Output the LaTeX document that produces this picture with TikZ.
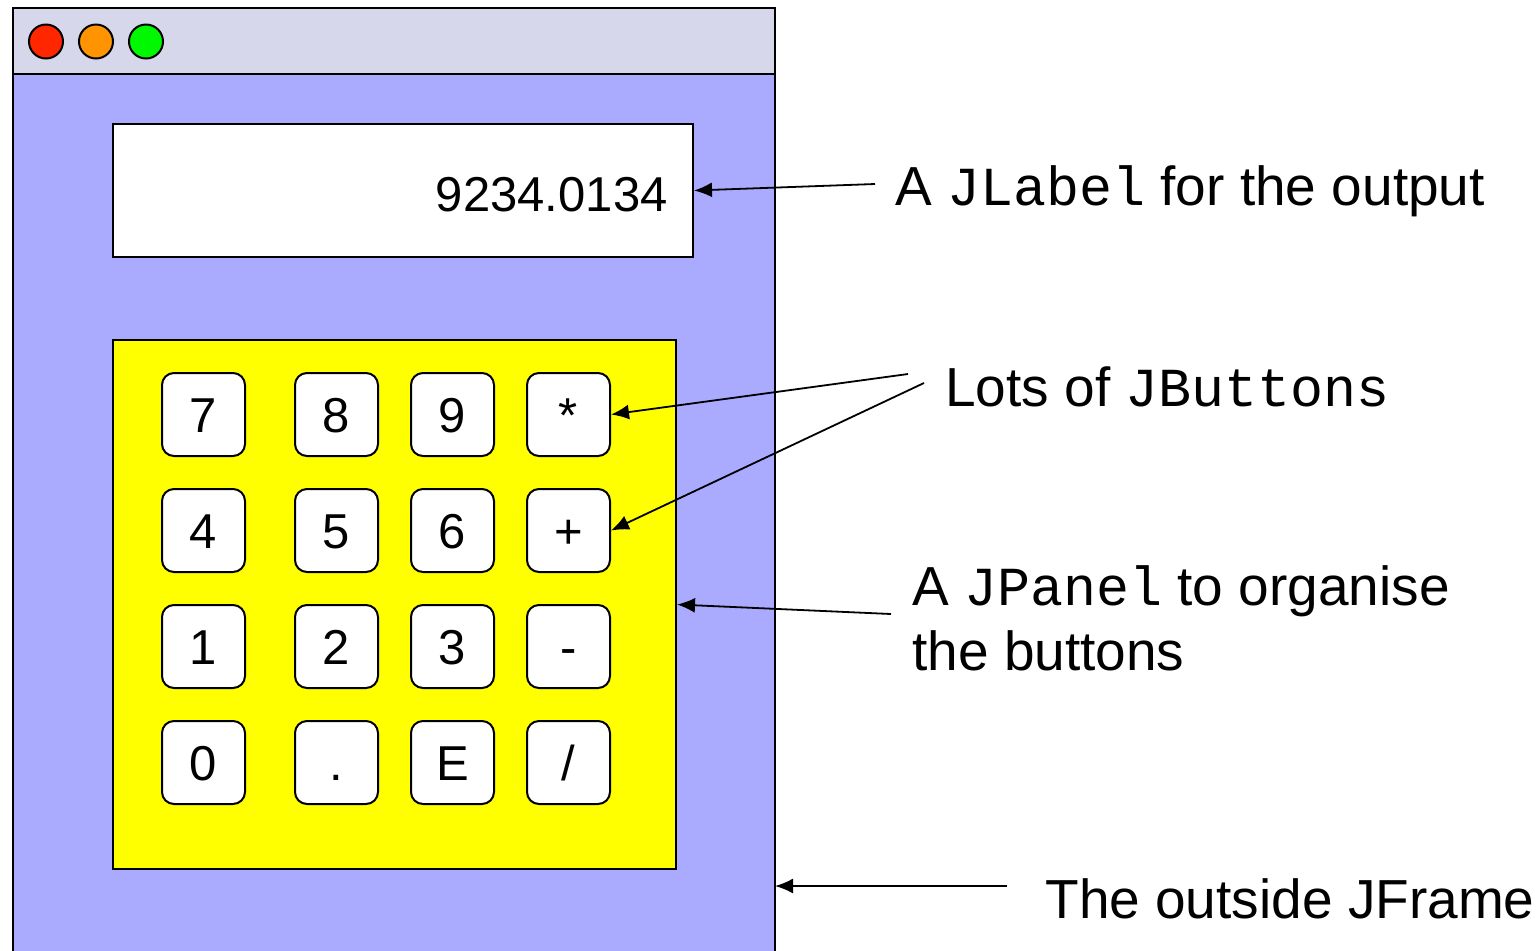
\documentclass[tikz,border=0pt]{standalone}
\usepackage{fontspec}
\setmainfont{Liberation Sans}
\setmonofont{Liberation Mono}
\usetikzlibrary{arrows.meta}
\definecolor{titlebar}{HTML}{D6D7EA}
\definecolor{framebody}{HTML}{AAAAFF}
\definecolor{panelyellow}{HTML}{FFFF00}
\definecolor{btnred}{HTML}{FF2600}
\definecolor{btnorange}{HTML}{FF9300}
\definecolor{btngreen}{HTML}{00F900}
\begin{document}
\begin{tikzpicture}[x=0.5pt,y=-0.5pt,
  btn/.style={draw, line width=1pt, fill=white, rounded corners=6pt,
    minimum width=41.5pt, minimum height=41.5pt, inner sep=0pt,
    font=\fontsize{24.5}{28}\selectfont, text height=17.5pt, text depth=0pt},
  lamp/.style={circle, draw, line width=1pt, minimum size=17pt, inner sep=0pt},
  lbltext/.style={inner sep=0pt, anchor=base west, font=\fontsize{27.5}{32}\selectfont},
  arr/.style={line width=0.9pt, -{Latex[length=9pt,width=7.5pt]}},
  ]
\useasboundingbox (0,0) rectangle (1539,950);
\begin{scope}
  \clip (0,0) rectangle (1539,950);
  \draw[line width=1pt, fill=framebody] (13,74) rectangle (775,990);
  \draw[line width=1pt, fill=titlebar] (13,8) rectangle (775,74);
\end{scope}
\node[lamp, fill=btnred] (close) at (46,41.5) {};
\node[lamp, fill=btnorange] (minimise) at (96,41.5) {};
\node[lamp, fill=btngreen] (maximise) at (146,41.5) {};

\node[draw, line width=1pt, fill=white, minimum width=290pt, minimum height=66.5pt, inner sep=0pt] (lbl) at (403,190.5) {};
\node[anchor=base east, inner sep=0pt, font=\fontsize{24.5}{28}\selectfont] (out) at (668,211) {9234.0134};

\node[draw, line width=1pt, fill=panelyellow, minimum width=281.5pt, minimum height=264.5pt, inner sep=0pt] (panel) at (394.5,604.5) {};

\node[btn] (b7) at (203.5,414.5) {7};
\node[btn] (b8) at (336.5,414.5) {8};
\node[btn] (b9) at (452.5,414.5) {9};
\node[btn] (bstar) at (568.5,414.5) {*};
\node[btn] (b4) at (203.5,530.5) {4};
\node[btn] (b5) at (336.5,530.5) {5};
\node[btn] (b6) at (452.5,530.5) {6};
\node[btn] (bplus) at (568.5,530.5) {+};
\node[btn] (b1) at (203.5,646.5) {1};
\node[btn] (b2) at (336.5,646.5) {2};
\node[btn] (b3) at (452.5,646.5) {3};
\node[btn] (bminus) at (568.5,646.5) {-};
\node[btn] (b0) at (203.5,762.5) {0};
\node[btn] (bdot) at (336.5,762.5) {.};
\node[btn] (bE) at (452.5,762.5) {E};
\node[btn] (bslash) at (568.5,762.5) {/};

\node[lbltext] (tlabel) at (895,205) {A \texttt{JLabel} for the output};
\node[lbltext] (tbuttons) at (945,406) {Lots of \texttt{JButtons}};
\node[lbltext] (tpanel1) at (912,605) {A \texttt{JPanel} to organise};
\node[lbltext] (tpanel2) at (912,670) {the buttons};
\node[lbltext] (tframe) at (1045,918) {The outside JFrame};

\coordinate (s1) at (875,184);
\coordinate (s2) at (908,374);
\coordinate (s3) at (924,383);
\coordinate (s4) at (891,614);
\coordinate (s5) at (1007,886);
\coordinate (e5) at (775,886);
\draw[arr] (s1) -- (lbl.east);
\draw[arr] (s2) -- (bstar.east);
\draw[arr] (s3) -- (bplus.east);
\draw[arr] (s4) -- (panel.east);
\draw[arr] (s5) -- (e5);
\end{tikzpicture}
\end{document}
